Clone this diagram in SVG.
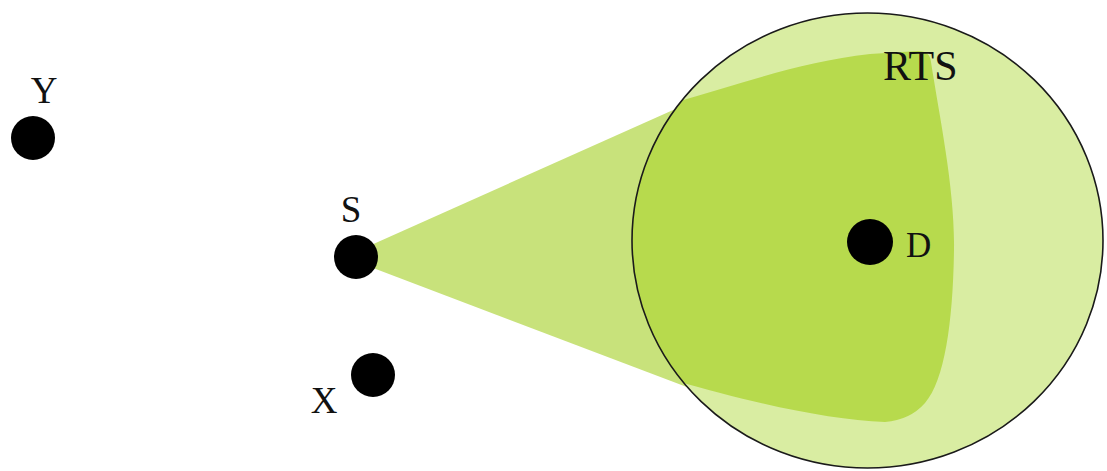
<svg xmlns="http://www.w3.org/2000/svg" width="1107" height="471" viewBox="0 0 1107 471">
  <style>
    .dot { fill: #000; }
    .lbl { font-family: "Liberation Serif", "Times New Roman", serif; fill: #111; }
  </style>
  <defs>
    <clipPath id="rtsClip">
      <ellipse cx="867.5" cy="240.5" rx="235.5" ry="227.5"/>
    </clipPath>
  </defs>
  <rect x="0" y="0" width="1107" height="471" fill="#ffffff"/>

  <g id="beam">
    <path d="M 360 250 L 700 98 L 700 392 L 360 263 Z" fill="#c8e27b"/>
  </g>

  <g id="rts-area">
    <ellipse cx="867.5" cy="240.5" rx="235.5" ry="227.5" fill="#d9eda2"/>
    <path clip-path="url(#rtsClip)" fill="#b7da4d"
      d="M 600 124 L 673 103 C 740 84 800 62 870 54 L 918 51 Q 930 51 931 62 C 940 120 955 190 954 250 C 953 320 945 380 925 403 Q 910 420 885 422 C 830 420 760 405 673 380 L 600 358 Z"/>
    <ellipse cx="867.5" cy="240.5" rx="235.5" ry="227.5" fill="none" stroke="#1a1a1a" stroke-width="1.6"/>
    <text class="lbl" x="883" y="80" font-size="42">RTS</text>
  </g>

  <g id="node-Y">
    <circle class="dot" cx="33" cy="138" r="22"/>
    <text class="lbl" x="44" y="103" font-size="37" text-anchor="middle">Y</text>
  </g>
  <g id="node-S">
    <circle class="dot" cx="356" cy="257" r="22"/>
    <text class="lbl" x="351" y="222" font-size="37" text-anchor="middle">S</text>
  </g>
  <g id="node-X">
    <circle class="dot" cx="373" cy="375" r="22"/>
    <text class="lbl" x="324" y="413" font-size="37" text-anchor="middle">X</text>
  </g>
  <g id="node-D">
    <circle class="dot" cx="870" cy="242" r="23"/>
    <text class="lbl" x="906" y="257" font-size="35">D</text>
  </g>
</svg>
